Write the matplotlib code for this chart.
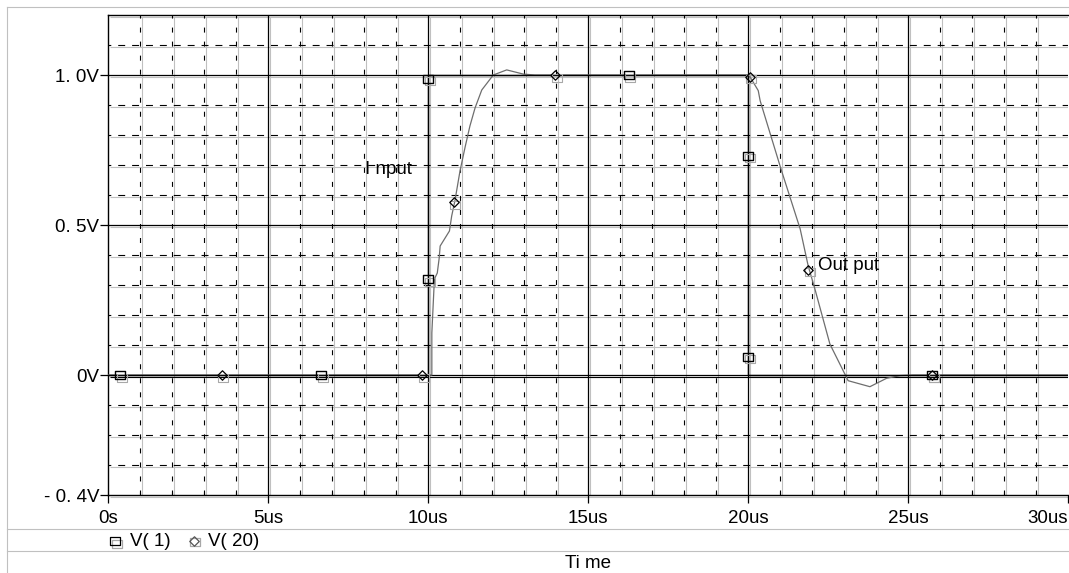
import numpy as np
import matplotlib
matplotlib.use("Agg")
import matplotlib.pyplot as plt
from matplotlib.path import Path
from matplotlib.transforms import ScaledTranslation
from matplotlib.lines import Line2D

plt.rcParams['font.family'] = ['Liberation Sans', 'DejaVu Sans']
plt.rcParams['lines.scale_dashes'] = False

# ---- data (time in us, voltage in V) ----
input_t = [0, 10.0, 10.0, 20.0, 20.0, 30]
input_v = [0, 0, 1.0, 1.0, 0, 0]

output_t = [0, 10.12, 10.12, 10.2, 10.29, 10.35, 10.38, 10.67, 10.74, 10.84, 11.0, 11.16,
            11.31, 11.47, 11.68, 12.04, 12.46, 12.98, 13.34, 20.0, 20.04, 20.32, 20.38,
            21.03, 21.63, 21.88, 22.09, 22.56, 23.13, 23.81, 24.33, 24.75, 25.16, 30]
output_v = [0, 0, 0.14, 0.32, 0.34, 0.39, 0.43, 0.48, 0.53, 0.58, 0.68, 0.76,
            0.83, 0.89, 0.95, 1.0, 1.017, 1.003, 1.0, 1.0, 0.998, 0.948, 0.914,
            0.687, 0.487, 0.364, 0.287, 0.103, -0.019, -0.039, -0.011, -0.002, 0, 0]

sq_t = [0.375, 6.66, 10.0, 10.0, 16.28, 20.0, 20.0, 25.75]
sq_v = [0, 0, 0.32, 0.988, 1.0, 0.731, 0.061, 0]

dm_t = [3.56, 9.82, 10.8, 13.97, 20.05, 21.88, 25.75]
dm_v = [0, 0, 0.576, 1.0, 0.995, 0.351, 0]

xtick_vals = [0, 5, 10, 15, 20, 25, 30]
xtick_labels = ["0s", "5us", "10us", "15us", "20us", "25us", "30us"]
ytick_vals = [-0.4, 0, 0.5, 1.0]
ytick_labels = ["- 0. 4V", "0V", "0. 5V", "1. 0V"]
legend_labels = ["V( 1)", "V( 20)"]
x_label = "Ti me"
trace_labels = ["I nput", "Out put"]

# ---- figure / layout in pixels ----
W, H = 1069, 573
DPI = 100
fig = plt.figure(figsize=(W / DPI, H / DPI), dpi=DPI)
L, R, T, B = 108, 1068, 15, 495
ax = fig.add_axes([L / W, 1 - B / H, (R - L) / W, (B - T) / H])
ax.set_xlim(0, 30)
ax.set_ylim(-0.4, 1.2)

FS = 13.5
GRAY = '#c0c0c0'
off = ScaledTranslation(2 / DPI, -2 / DPI, fig.dpi_scale_trans)
trans_off = ax.transData + off

# gray (offset) grid
gx = np.arange(1, 30)
gy = np.round(np.arange(-0.3, 1.21, 0.1), 2)
ax.vlines(gx, -0.4, 1.2, colors=GRAY, lw=0.8, transform=trans_off, zorder=1)
ax.hlines(gy, 0, 30, colors=GRAY, lw=0.8, transform=trans_off, zorder=1)
ax.hlines([-0.4], 0, 30, colors=GRAY, lw=0.8, transform=trans_off, zorder=1, clip_on=False)

# black grid
major_x = [5, 10, 15, 20, 25]
major_y = [0, 0.5, 1.0]
minor_x = [v for v in range(1, 30) if v % 5 != 0]
minor_y = [v for v in np.round(np.arange(-0.3, 1.15, 0.1), 2) if v not in (0.0, 0.5, 1.0)]
ax.vlines(major_x, -0.4, 1.2, colors='black', lw=0.9, zorder=2)
ax.hlines(major_y, 0, 30, colors='black', lw=0.9, zorder=2)
ax.vlines(minor_x, -0.4, 1.2, colors='black', lw=0.8, linestyles=[(0, (3.6, 6.5))], zorder=2)
ax.hlines(minor_y, 0, 30, colors='black', lw=0.8, linestyles=[(3, (5.0, 5.0))], zorder=2)
# second (offset) 0V line
ax.hlines([0], 0, 30, colors='black', lw=0.8, transform=trans_off, zorder=2)

# traces
ax.plot(output_t, output_v, color='#6e6e6e', lw=0.9, zorder=3)
ax.plot(input_t, input_v, color='black', lw=1.0, zorder=4)

# markers
rect = Path([(-1, -0.8), (1, -0.8), (1, 0.8), (-1, 0.8), (-1, -0.8)],
            [Path.MOVETO, Path.LINETO, Path.LINETO, Path.LINETO, Path.CLOSEPOLY])
diam = Path([(0, 1), (1, 0), (0, -1), (-1, 0), (0, 1)],
            [Path.MOVETO, Path.LINETO, Path.LINETO, Path.LINETO, Path.CLOSEPOLY])
ms_sq = 7.4
ms_dm = 6.8
shadow = ax.transData + ScaledTranslation(1.5 / DPI, -2.5 / DPI, fig.dpi_scale_trans)
ax.plot(sq_t + dm_t, sq_v + dm_v, ls='none', marker=rect, ms=ms_sq, mfc='none',
        mec='#a8a8a8', mew=0.8, transform=shadow, zorder=5, clip_on=False)
ax.plot(sq_t, sq_v, ls='none', marker=rect, ms=ms_sq, mfc='none', mec='black',
        mew=1.0, zorder=6, clip_on=False)
ax.plot(dm_t, dm_v, ls='none', marker=diam, ms=ms_dm, mfc='none', mec='black',
        mew=0.9, zorder=6, clip_on=False)

# trace labels
ax.text(365, H - 169, trace_labels[0], transform=None, fontsize=FS, va='center', ha='left')
ax.text(818, H - 266, trace_labels[1], transform=None, fontsize=FS, va='center', ha='left')

# spines and ticks
for s in ['left', 'bottom', 'top']:
    ax.spines[s].set_linewidth(1.0)
ax.spines['right'].set_visible(False)
ax.set_xticks(xtick_vals)
ax.set_xticklabels(xtick_labels, fontsize=FS)
ax.get_xticklabels()[-1].set_ha('right')
ax.set_xticks(range(0, 31), minor=True)
ax.set_yticks(ytick_vals)
ax.set_yticklabels(ytick_labels, fontsize=FS)
ax.tick_params(axis='x', which='major', direction='out', length=5.8, width=0.9, pad=5)
ax.tick_params(axis='x', which='minor', direction='in', length=2.2, width=0.8)
ax.tick_params(axis='y', which='major', direction='out', length=5.8, width=0.9, pad=0.5)
ax.tick_params(axis='y', which='minor', left=False)
ax.set_facecolor('white')

# outer frame (figure pixel coords)
def fline(x0, y0, x1, y1, color=GRAY, lw=0.8):
    fig.add_artist(Line2D([x0 / W, x1 / W], [1 - y0 / H, 1 - y1 / H], color=color,
                          lw=lw, transform=fig.transFigure))

fline(7, 7, W, 7)
fline(7, 7, 7, H)
fline(7, 529, W, 529)
fline(7, 551, W, 551)

# legend row
def fmark(x, y, marker, ms, color='black', dx=0, dy=0):
    fig.add_artist(Line2D([(x + dx) / W], [1 - (y + dy) / H], ls='none', marker=marker,
                          ms=ms, mfc='none', mec=color, mew=0.9, transform=fig.transFigure))

fmark(115, 541, rect, ms_sq, '#a8a8a8', 1.5, 2.5)
fmark(115, 541, rect, ms_sq)
fig.text(130 / W, 1 - 541 / H, legend_labels[0], fontsize=FS, va='center', ha='left')
fmark(194, 541, rect, ms_sq, '#a8a8a8', 1.0, 1.0)
fmark(194, 541, diam, ms_dm, '#555555')
fig.text(208 / W, 1 - 541 / H, legend_labels[1], fontsize=FS, va='center', ha='left')

fig.text(588 / W, 1 - 563 / H, x_label, fontsize=FS, va='center', ha='center')

fig.savefig('out.png', dpi=DPI, facecolor='white')
